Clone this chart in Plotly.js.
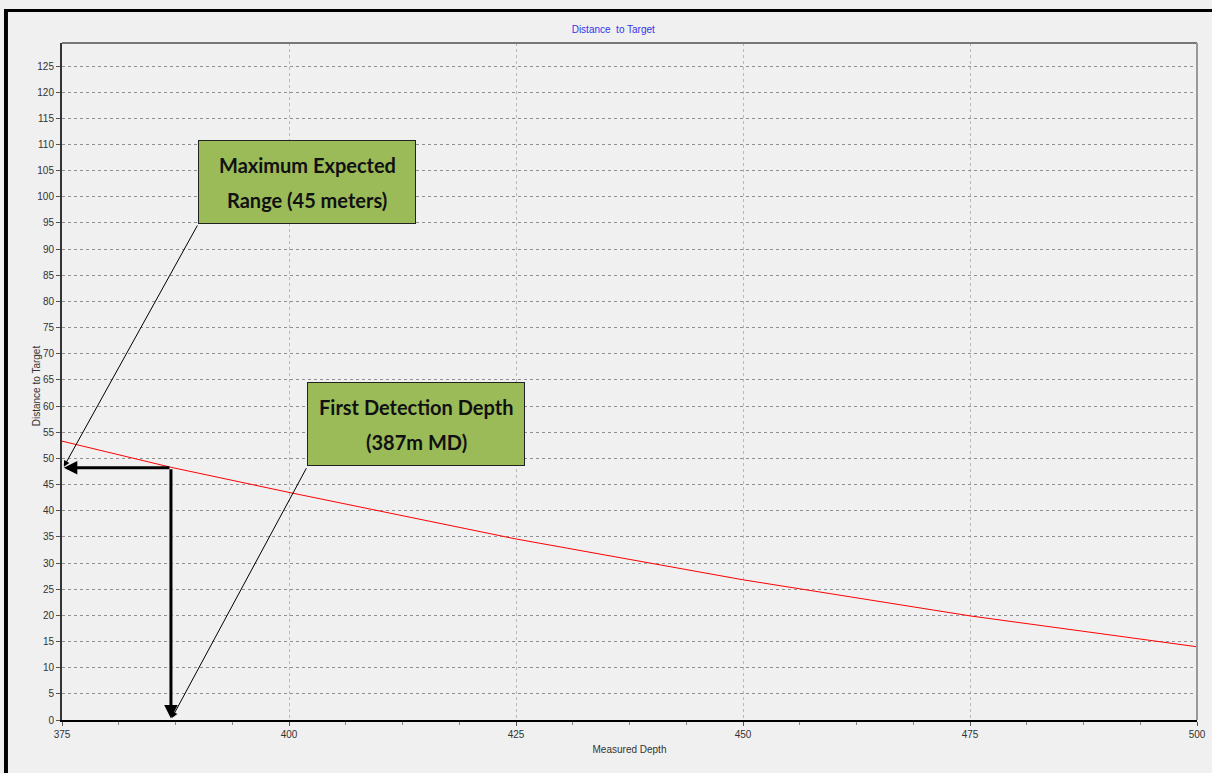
<!DOCTYPE html>
<html>
<head>
<meta charset="utf-8">
<script src="https://cdn.plot.ly/plotly-3.0.1.min.js"></script>
<style>html,body{margin:0;padding:0;background:#f0f0f0;}#chart{width:1212px;height:773px;}</style>
</head>
<body>
<div id="chart"></div>
<script>
// Series: distance to target vs measured depth
const measuredDepth = [375, 387, 400, 425, 450, 475, 500];
const distanceToTarget = [53.3, 48.3, 43.5, 34.6, 26.8, 19.9, 14.0];

// Axis ranges and ticks
const xRange = [375, 500];
const yRange = [0, 129.4];
const xTickStep = 25;
const yTickStep = 5;

// Detection point (first detection depth, expected range)
const detectionDepth = [387];
const detectionDistance = [48.2];
const axisStart = [375.2, 0.3];

// Callout boxes: text lines, anchor (x, y of top-left corner), arrow tip
const calloutLine1 = ["Maximum Expected", "First Detection Depth"];
const calloutLine2 = ["Range (45 meters)", "(387m MD)"];
const calloutX = [390, 402];
const calloutY = [110.9, 64.6];
const calloutBottomY = [94.8, 48.4];
const calloutTipX = [375.2, 387.1];
const calloutTipY = [48.4, 0.4];

const FONT = 'Lato, "Liberation Sans", Arial, sans-serif';
const LBL = '"Liberation Sans", Arial, sans-serif';

const traces = [{
  x: measuredDepth, y: distanceToTarget, type: 'scatter', mode: 'lines',
  line: {color: '#ff0000', width: 1}, hoverinfo: 'skip', showlegend: false
}];

const annotations = [];
for (let i = 0; i < calloutLine1.length; i++) {
  annotations.push({
    x: calloutX[i], y: calloutY[i], xref: 'x', yref: 'y', xanchor: 'left', yanchor: 'top',
    text: ' ', showarrow: false,
    bgcolor: '#9bbb59', bordercolor: '#222', borderwidth: 1, borderpad: 0,
    width: 216, height: 82
  });
  [calloutLine1[i], calloutLine2[i]].forEach((t, k) => {
    annotations.push({
      x: calloutX[i], y: calloutY[i], xref: 'x', yref: 'y', xanchor: 'center', yanchor: 'middle',
      xshift: 109, yshift: k === 0 ? -25 : -60,
      text: '<b>' + t + '</b>', showarrow: false,
      font: {family: FONT, size: 20, color: '#111'}
    });
  });
  annotations.push({
    x: calloutTipX[i], y: calloutTipY[i], xref: 'x', yref: 'y',
    ax: calloutX[i], ay: calloutBottomY[i], axref: 'x', ayref: 'y',
    text: '', showarrow: true, arrowhead: 2, arrowsize: 1.2, arrowwidth: 1, arrowcolor: '#000'
  });
}
// thick arrows from detection point
annotations.push({
  x: axisStart[0], y: detectionDistance[0], xref: 'x', yref: 'y',
  ax: detectionDepth[0], ay: detectionDistance[0], axref: 'x', ayref: 'y',
  text: '', showarrow: true, arrowhead: 2, arrowsize: 0.9, arrowwidth: 3, arrowcolor: '#000'
});
annotations.push({
  x: detectionDepth[0], y: axisStart[1], xref: 'x', yref: 'y',
  ax: detectionDepth[0], ay: detectionDistance[0], axref: 'x', ayref: 'y',
  text: '', showarrow: true, arrowhead: 2, arrowsize: 0.9, arrowwidth: 3, arrowcolor: '#000'
});
// y axis title placed as annotation
annotations.push({
  x: 0, y: 0.493, xref: 'paper', yref: 'paper', xanchor: 'center', yanchor: 'middle',
  xshift: -26, textangle: -90, showarrow: false, text: 'Distance to Target',
  font: {family: LBL, size: 10, color: '#333'}
});

const layout = {
  width: 1212, height: 773,
  paper_bgcolor: '#f0f0f0', plot_bgcolor: '#f0f0f0',
  margin: {l: 62, r: 15, t: 43, b: 53},
  showlegend: false,
  title: {text: 'Distance  to Target', x: 0.506, xref: 'container', y: 1 - 29/773, yref: 'container',
          yanchor: 'middle', xanchor: 'center', font: {family: LBL, size: 10, color: '#3333ee'}},
  xaxis: {
    range: xRange, dtick: xTickStep, tick0: 375,
    showgrid: true, gridcolor: '#b8b8b8', griddash: 'dot', gridwidth: 1,
    ticks: 'outside', ticklen: 4, tickcolor: '#555',
    minor: {dtick: 6.25, ticks: 'outside', ticklen: 3, tickcolor: '#888', showgrid: false},
    showline: true, linecolor: '#000', linewidth: 2, zeroline: false,
    tickfont: {family: LBL, size: 10, color: '#333'},
    title: {text: 'Measured Depth', standoff: 7, font: {family: LBL, size: 10, color: '#333'}}
  },
  yaxis: {
    range: yRange, dtick: yTickStep, tick0: 0,
    showgrid: true, gridcolor: '#909090', griddash: 'dot', gridwidth: 1,
    ticks: 'outside', ticklen: 4, tickcolor: '#555',
    showline: true, linecolor: '#333', linewidth: 2, zeroline: false,
    tickfont: {family: LBL, size: 10, color: '#333'}
  },
  shapes: [
    {type: 'line', xref: 'paper', yref: 'paper', x0: 0, x1: 1, y0: 1, y1: 1, line: {color: '#777', width: 2}},
    {type: 'line', xref: 'paper', yref: 'paper', x0: 1, x1: 1, y0: 0, y1: 1, line: {color: '#999', width: 2}},
    {type: 'rect', xref: 'paper', yref: 'paper', x0: -0.0511, x1: -0.0476, y0: -0.08, y1: 1.0502,
     fillcolor: '#000', line: {width: 0}},
    {type: 'rect', xref: 'paper', yref: 'paper', x0: -0.0511, x1: 1.02, y0: 1.0458, y1: 1.0502,
     fillcolor: '#000', line: {width: 0}}
  ],
  annotations: annotations
};

Plotly.newPlot('chart', traces, layout, {displayModeBar: false, staticPlot: true});
</script>
</body>
</html>
